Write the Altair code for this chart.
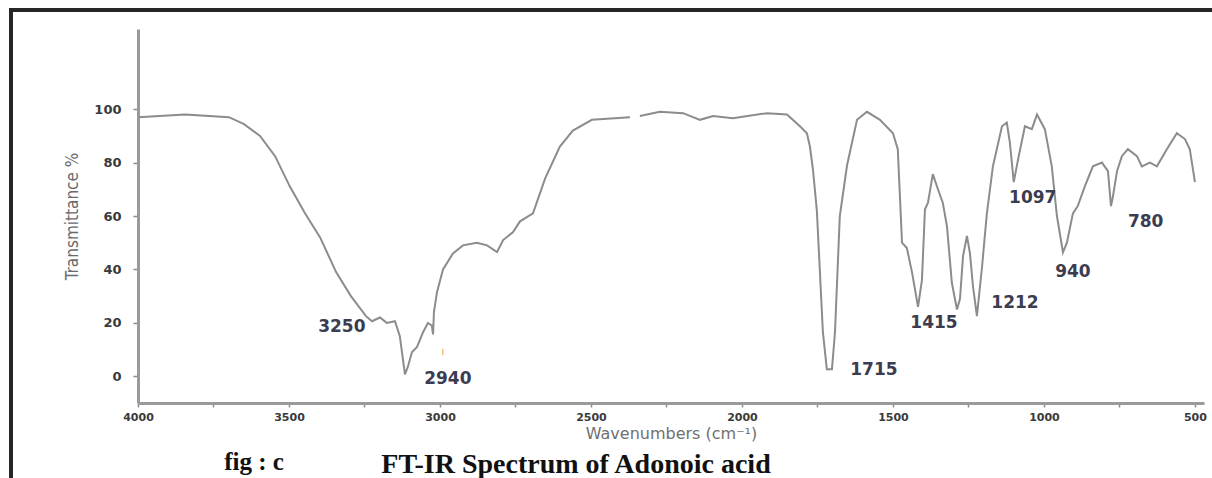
import altair as alt
import pandas as pd

# --- spectrum (wavenumber cm-1, transmittance %) ---
wavenumber = [4000, 3844, 3699, 3649, 3596, 3546, 3497, 3447, 3397, 3344, 3295, 3245,
              3225, 3199, 3176, 3149, 3133, 3116, 3106, 3093, 3076, 3056, 3040, 3027,
              3023, 3020, 3010, 2990, 2957, 2924, 2878, 2844, 2811, 2791, 2758, 2735,
              2692, 2652, 2603, 2560, 2497, 2371,
              2338, 2272, 2195, 2139, 2096, 2030, 1917, 1851, 1808, 1785, 1775, 1765,
              1752, 1732, 1719, 1702, 1692, 1676, 1652, 1619, 1586, 1543, 1500, 1484,
              1470, 1454, 1437, 1417, 1404, 1394, 1384, 1368, 1351, 1335, 1321, 1305,
              1288, 1278, 1268, 1255, 1245, 1235, 1222, 1205, 1189, 1169, 1139, 1123,
              1113, 1100, 1086, 1063, 1040, 1023, 997, 974, 957, 937, 924, 904, 888,
              865, 838, 808, 788, 778, 772, 758, 742, 722, 692, 676, 649, 626, 593,
              560, 533, 517, 500]
transmittance = [97, 98, 97, 94.4, 90, 82.4, 71, 61, 52, 39, 30, 22.5,
                 20.6, 22, 20, 20.6, 15, 0.7, 3.7, 9, 11, 16.5, 20, 19,
                 15.7, 24, 31.5, 40, 46, 49, 50, 49, 46.5, 51, 54, 58,
                 61, 74, 86, 92, 96, 97,
                 97.4, 99, 98.5, 96, 97.4, 96.6, 98.5, 98, 93.6, 91, 86, 77.5,
                 62, 16.5, 2.6, 2.6, 16.5, 60, 79, 96, 99, 96, 91, 85,
                 50, 48, 39, 26, 36, 62.5, 65, 75.7, 70, 65, 56, 35,
                 25, 29, 45, 52.5, 46, 33.7, 22.5, 41, 61, 78.6, 93.6, 95,
                 87.6, 72.7, 81, 93.6, 92.5, 98, 92.5, 78.6, 60, 46.4, 50, 61, 63.7,
                 71, 78.6, 80, 76.8, 63.7, 67, 76.8, 82.4, 85, 82.4, 78.6, 80, 78.6, 85,
                 91, 88.8, 85, 72.7]
GAP_BETWEEN = 2355  # small break in the trace

# --- peak labels ---
peak_labels = ["3250", "2940", "1715", "1415", "1212", "1097", "940", "780"]
peak_x = [3325, 2974, 1563, 1364, 1096, 1037, 904, 663]
peak_y = [18.4, -1.1, 2.2, 19.9, 27.3, 66.7, 39, 57.7]

x_ticks = [4000, 3750, 3500, 3250, 3000, 2750, 2500, 2250, 2000, 1750, 1500, 1250, 1000, 750, 500]
y_ticks = [0, 5, 10, 15, 20, 25, 30, 35, 40, 45, 50, 55, 60, 65, 70, 75, 80, 85, 90, 95, 100]

W, H = 1066, 374

df = pd.DataFrame({"wn": wavenumber, "T": transmittance})
df["seg"] = (df["wn"] < GAP_BETWEEN).astype(int)
ann = pd.DataFrame({"wn": peak_x, "T": peak_y, "label": peak_labels})
one = pd.DataFrame({"a": [0]})

xscale = alt.Scale(domain=[4000, 470], nice=False, zero=False)
yscale = alt.Scale(domain=[-10, 130], nice=False, zero=False)

line = alt.Chart(df).mark_line(color="#8c8c8c", strokeWidth=2).encode(
    x=alt.X("wn:Q", scale=xscale,
            axis=alt.Axis(values=x_ticks, grid=False,
                          labelExpr="datum.value % 500 === 0 ? datum.label : ''",
                          format="d", labelOverlap=False, labelFlush=False,
                          domainColor="#9a9a9a", domainWidth=3, tickColor="#8a8a8a",
                          tickSize=4, tickWidth=1.5, labelPadding=4,
                          labelFont="DejaVu Sans", labelFontSize=11, labelFontWeight="bold",
                          labelColor="#3a3a3a",
                          title="Wavenumbers (cm\u207b\u00b9)", titleFont="DejaVu Sans",
                          titleFontSize=16, titleFontWeight="normal", titleColor="#707070",
                          titlePadding=3)),
    y=alt.Y("T:Q", scale=yscale,
            axis=alt.Axis(values=y_ticks, grid=False,
                          labelExpr="datum.value % 20 === 0 ? datum.label : ''",
                          labelOverlap=False, labelFlush=False,
                          domainColor="#9a9a9a", domainWidth=3, tickColor="#8a8a8a",
                          tickSize=5, tickWidth=1.5, labelPadding=12,
                          labelFont="DejaVu Sans", labelFontSize=13, labelFontWeight="bold",
                          labelColor="#3a3a3a",
                          title="Transmittance %", titleFont="DejaVu Sans Condensed",
                          titleFontSize=17, titleFontWeight="normal", titleColor="#6a6a6a",
                          titlePadding=12)),
    detail="seg:N",
)

labels = alt.Chart(ann).mark_text(font="DejaVu Sans", fontSize=17, fontWeight="bold",
                                  color="#3c3c50", baseline="middle", align="center").encode(
    x=alt.X("wn:Q", scale=xscale),
    y=alt.Y("T:Q", scale=yscale),
    text="label:N",
)

tick_mark = alt.Chart(pd.DataFrame({"wn": [2990], "T": [9.0], "t": ["\u0131"]})).mark_text(
    font="DejaVu Sans", fontSize=10, color="#e0a060").encode(
    x=alt.X("wn:Q", scale=xscale), y=alt.Y("T:Q", scale=yscale), text="t:N")

frame_left = alt.Chart(one).mark_rule(color="#262626", strokeWidth=4).encode(
    x=alt.value(-127), y=alt.value(-19), y2=alt.value(H + 80))
frame_top = alt.Chart(one).mark_rule(color="#262626", strokeWidth=4).encode(
    x=alt.value(-129), x2=alt.value(W + 20), y=alt.value(-19))

fig_text = alt.Chart(one).mark_text(font="Liberation Serif", fontSize=25, fontWeight="bold",
                                    color="#111111", baseline="middle", align="center").encode(
    x=alt.value(116), y=alt.value(433), text=alt.value("fig : c"))
title_text = alt.Chart(one).mark_text(font="Liberation Serif", fontSize=28, fontWeight="bold",
                                      color="#111111", baseline="middle", align="center").encode(
    x=alt.value(438), y=alt.value(436), text=alt.value("FT-IR Spectrum of Adonoic acid"))

chart = alt.layer(line, labels, tick_mark, frame_left, frame_top, fig_text, title_text).properties(
    width=W, height=H,
    padding={"left": 138, "top": 29, "right": 8, "bottom": 75},
    autosize="none",
    background="white",
).configure_view(stroke=None)

chart.save("out.html", embed_options={"renderer": "svg", "actions": False})
